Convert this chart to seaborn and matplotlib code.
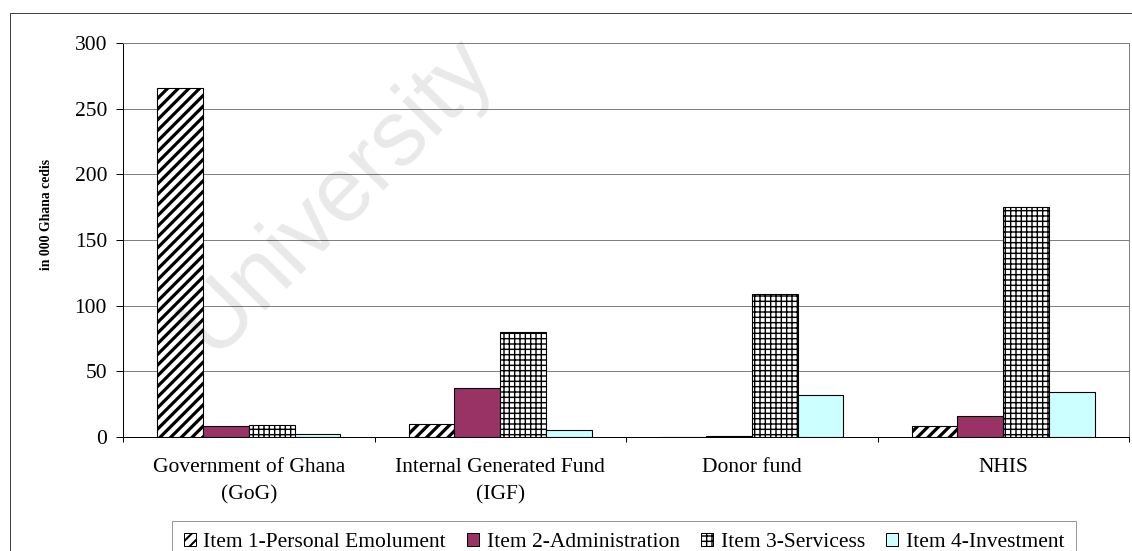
import numpy as np
import pandas as pd
import matplotlib
matplotlib.use("Agg")
import matplotlib.pyplot as plt
from matplotlib.patches import Patch, Rectangle
from matplotlib.ticker import FixedLocator
import seaborn as sns

# Expenditure by funding source (in 000 Ghana cedis)
sources = ["Government of Ghana\n(GoG)", "Internal Generated Fund\n(IGF)", "Donor fund", "NHIS"]
items = ["Item 1-Personal Emolument", "Item 2-Administration",
         "Item 3-Servicess", "Item 4-Investment"]
item1 = [266, 10, 0, 8.5]
item2 = [8, 37, 1, 16]
item3 = [9, 80, 109, 175]
item4 = [2, 5.5, 32, 34.5]
y_ticks = [0, 50, 100, 150, 200, 250, 300]

colors = ["#FFFFFF", "#993366", "#FFFFFF", "#CCFFFF"]
hatches = ["//", "", "++", ""]
hatch_px = [3.2, 1.0, 1.4, 1.0]

DPI = 64
W, H = 1132, 551
PT = 72 / DPI          # points per pixel
FS = 21.5 * PT         # main text size

sns.set_theme(style="white")
plt.rcParams["font.family"] = ["Liberation Serif", "DejaVu Serif"]
plt.rcParams["text.color"] = "black"
plt.rcParams["hatch.color"] = "black"

rows = []
for name, vals in zip(items, [item1, item2, item3, item4]):
    for s, v in zip(sources, vals):
        rows.append({"source": s, "item": name, "value": v})
df = pd.DataFrame(rows)

fig = plt.figure(figsize=(W / DPI, H / DPI), dpi=DPI, facecolor="white")
ax = fig.add_axes([123 / W, 1 - 437 / H, (1129 - 123) / W, (437 - 43) / H])

sns.barplot(data=df, x="source", y="value", hue="item", order=sources,
            hue_order=items, palette=colors, width=0.728, gap=0,
            saturation=1, edgecolor="black", linewidth=1.1 * PT,
            legend=False, ax=ax)

for cont, h, lw in zip(ax.containers, hatches, hatch_px):
    for bar in cont:
        bar.set_hatch(h)
        if hasattr(bar, "set_hatch_linewidth"):
            bar.set_hatch_linewidth(lw * PT)

ax.set_xlim(-0.5, 3.5)
ax.set_ylim(0, 300)
ax.set_yticks(y_ticks)
ax.set_xlabel("")
ax.set_ylabel("")
ax.set_axisbelow(True)
ax.yaxis.grid(True, color="#808080", linewidth=1 * PT)
ax.xaxis.grid(False)

for side in ["left", "bottom"]:
    ax.spines[side].set_color("black")
    ax.spines[side].set_linewidth(1 * PT)
for side in ["top", "right"]:
    ax.spines[side].set_color("#808080")
    ax.spines[side].set_linewidth(1 * PT)

ax.tick_params(axis="y", direction="out", length=7 * PT, width=1 * PT,
               color="black", pad=9 * PT, labelsize=FS, labelcolor="black", left=True)
ax.tick_params(axis="x", which="major", length=0, pad=21 * PT,
               labelsize=FS, labelcolor="black")
ax.xaxis.set_minor_locator(FixedLocator([-0.5, 0.5, 1.5, 2.5, 3.5]))
ax.tick_params(axis="x", which="minor", direction="out", length=5 * PT,
               width=1 * PT, color="black", bottom=True)
for lab in ax.get_xticklabels():
    lab.set_linespacing(1.6)

fig.text(47 / W, 1 - 214.5 / H, "in 000 Ghana cedis", rotation=90,
         ha="center", va="center", fontweight="bold", fontsize=13.8 * PT)

handles = [Patch(facecolor=c, edgecolor="black", hatch=h, linewidth=1 * PT)
           for c, h in zip(colors, hatches)]
leg = fig.legend(handles, items, loc="upper center",
                 bbox_to_anchor=(624 / W, 1 - 521 / H), ncol=4, frameon=True,
                 fancybox=False, edgecolor="#808080", fontsize=FS,
                 handlelength=0.55, handleheight=0.55, handletextpad=0.35,
                 columnspacing=1.0, borderpad=0.55, borderaxespad=0)
leg.get_frame().set_linewidth(1 * PT)
for hnd, lw in zip(leg.legend_handles, hatch_px):
    if hasattr(hnd, "set_hatch_linewidth"):
        hnd.set_hatch_linewidth(min(lw, 2.0) * PT)

# outer frame around the chart
fig.patches.append(Rectangle((10 / W, -0.2), 1.2, 1.2 - 13 / H, fill=False,
                             edgecolor="#404040", linewidth=1 * PT,
                             transform=fig.transFigure, figure=fig))

# faint watermark
fig.text(213 / W, 1 - 357 / H, "University", rotation=45.5,
         rotation_mode="anchor", ha="left", va="baseline",
         family="Liberation Sans", fontsize=92 * PT, color="black",
         alpha=0.09, zorder=10)

fig.savefig("out.png", dpi=DPI, facecolor="white")
